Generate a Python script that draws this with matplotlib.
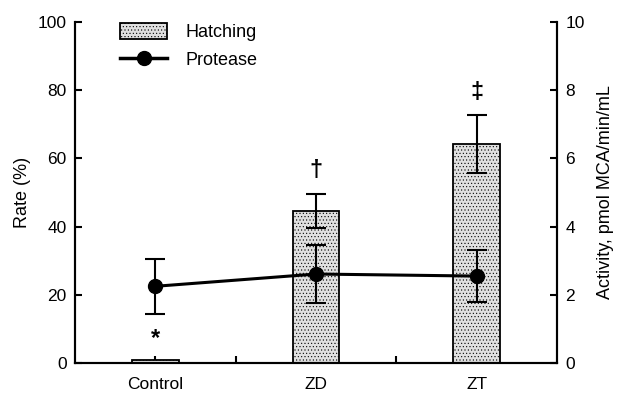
import numpy as np
import matplotlib
matplotlib.use("Agg")
import matplotlib.pyplot as plt
from matplotlib.lines import Line2D
from matplotlib.patches import Patch

plt.rcParams['font.family'] = ['Liberation Sans', 'DejaVu Sans']
plt.rcParams['hatch.linewidth'] = 0.4
plt.rcParams['hatch.color'] = '#8a8a8a'

groups = ['Control', 'ZD', 'ZT']
hatch_rate = [0.8, 44.6, 64.1]
hatch_err = [0.0, 5.1, 8.5]
protease = [2.25, 2.61, 2.55]
protease_err = [0.8, 0.84, 0.77]
marks = ['*', '\u2020', '\u2021']

fig = plt.figure(figsize=(6.17, 3.96), dpi=100)
ax = fig.add_axes([0.1216, 0.0833, 0.7812, 0.861])
ax2 = ax.twinx()

x = np.arange(len(groups))
ax.bar(x, hatch_rate, width=0.29, color='#e0e0e0', edgecolor='black',
       linewidth=1.3, hatch='.....', zorder=2)
ax.errorbar(x[1:], hatch_rate[1:], yerr=hatch_err[1:], fmt='none', ecolor='black',
            elinewidth=1.5, capsize=7, capthick=1.5, zorder=3)

ax2.errorbar(x, protease, yerr=protease_err, color='black', lw=2.2, marker='o',
             markersize=10, elinewidth=1.5, capsize=7, capthick=1.5, zorder=4)

# significance marks above the bars
offs = [3.0, 3.5, 3.5]
for i in range(3):
    top = hatch_rate[i] + hatch_err[i] + offs[i]
    ax.text(x[i], top, marks[i], ha='center', va='bottom',
            fontsize=17, fontweight='bold')

ax.set_xlim(-0.5, 2.5)
ax.set_ylim(0, 100)
ax2.set_ylim(0, 10)
ax.set_yticks(np.arange(0, 101, 20))
ax2.set_yticks(np.arange(0, 11, 2))
ax.set_xticks(x)
ax.set_xticklabels(groups)
ax.set_xticks([0.5, 1.5], minor=True)

ax.set_ylabel('Rate (%)', fontsize=13, labelpad=5)
ax2.set_ylabel('Activity, pmol MCA/min/mL', fontsize=13, labelpad=9)

for a in (ax, ax2):
    a.spines['top'].set_visible(False)
    for s in a.spines.values():
        s.set_linewidth(1.5)
    a.tick_params(direction='in', width=1.5, length=5, labelsize=12.5)
ax.tick_params(axis='x', which='both', direction='in', width=1.5, length=5, pad=10)
ax.tick_params(axis='y', pad=6)
ax2.tick_params(axis='y', pad=6)

handles = [Patch(facecolor='#e0e0e0', edgecolor='black', linewidth=1.3, hatch='.....'),
           Line2D([], [], color='black', lw=2.5, marker='o', markersize=10)]
ax.legend(handles, ['Hatching', 'Protease'], loc='upper left',
          bbox_to_anchor=(0.06, 1.045), frameon=False, fontsize=13,
          handlelength=2.6, handleheight=1.0, handletextpad=1.0,
          labelspacing=0.55)

fig.savefig('out.png', dpi=100)
